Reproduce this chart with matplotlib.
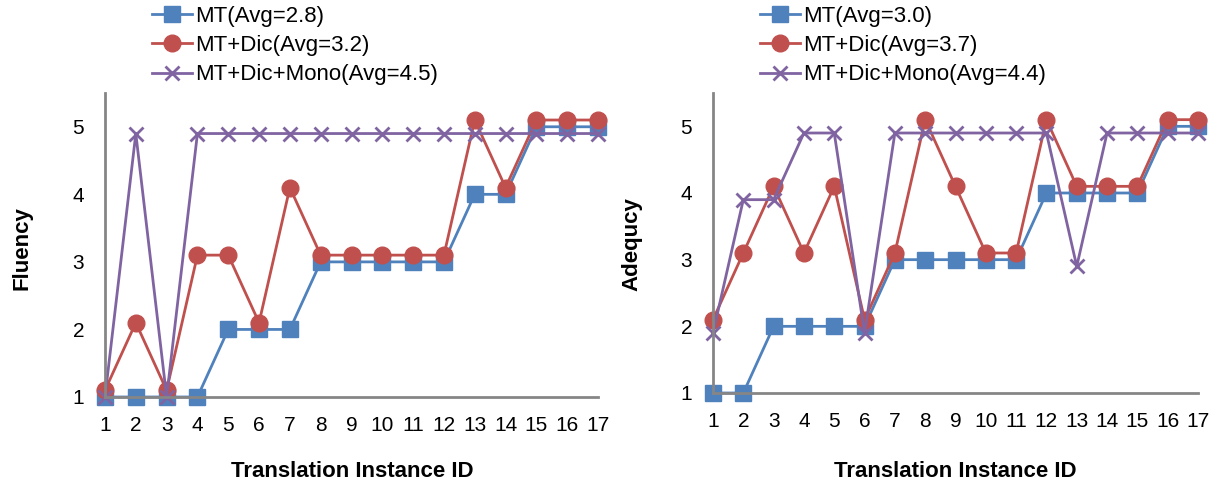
import numpy as np
import matplotlib
matplotlib.use("Agg")
import matplotlib.pyplot as plt

plt.rcParams['font.family'] = ['Liberation Sans', 'DejaVu Sans']

ids = list(range(1, 18))
tick_labels = [str(i) for i in ids]

# fluency scores (as plotted; Excel offsets the overlapping series slightly)
flu_mt = [1, 1, 1, 1, 2, 2, 2, 3, 3, 3, 3, 3, 4, 4, 5, 5, 5]
flu_dic = [1.1, 2.1, 1.1, 3.1, 3.1, 2.1, 4.1, 3.1, 3.1, 3.1, 3.1, 3.1, 5.1, 4.1, 5.1, 5.1, 5.1]
flu_mono = [1.0, 4.9, 1.0, 4.9, 4.9, 4.9, 4.9, 4.9, 4.9, 4.9, 4.9, 4.9, 4.9, 4.9, 4.9, 4.9, 4.9]

# adequacy scores
ade_mt = [1, 1, 2, 2, 2, 2, 3, 3, 3, 3, 3, 4, 4, 4, 4, 5, 5]
ade_dic = [2.1, 3.1, 4.1, 3.1, 4.1, 2.1, 3.1, 5.1, 4.1, 3.1, 3.1, 5.1, 4.1, 4.1, 4.1, 5.1, 5.1]
ade_mono = [1.9, 3.9, 3.9, 4.9, 4.9, 1.9, 4.9, 4.9, 4.9, 4.9, 4.9, 4.9, 2.9, 4.9, 4.9, 4.9, 4.9]

flu_names = ['MT(Avg=2.8)', 'MT+Dic(Avg=3.2)', 'MT+Dic+Mono(Avg=4.5)']
ade_names = ['MT(Avg=3.0)', 'MT+Dic(Avg=3.7)', 'MT+Dic+Mono(Avg=4.4)']

blue = '#4F81BD'
red = '#C0504D'
purple = '#8064A2'
gray = '#868686'

W, H = 1226, 483
fig = plt.figure(figsize=(W / 100, H / 100), dpi=100)


def px_axes(x0, x1, y0, y1):
    # pixel box -> figure fraction
    return fig.add_axes([x0 / W, 1 - y1 / H, (x1 - x0) / W, (y1 - y0) / H])


def draw(ax, mt, dic, mono, names, legend_x):
    l1, = ax.plot(ids, mt, color=blue, lw=2, marker='s', ms=11, clip_on=False, label=names[0])
    l2, = ax.plot(ids, dic, color=red, lw=2, marker='o', ms=12, clip_on=False, label=names[1])
    l3, = ax.plot(ids, mono, color=purple, lw=2, marker='x', ms=10, mew=2, clip_on=False, label=names[2])
    ax.set_xlim(1, 17)
    ax.set_ylim(1, 5.5)
    ax.set_xticks(ids)
    ax.set_xticklabels(tick_labels)
    ax.set_yticks([1, 2, 3, 4, 5])
    ax.tick_params(axis='x', length=0, pad=14, labelsize=15)
    ax.tick_params(axis='y', length=0, pad=15, labelsize=15)
    for s in ['top', 'right']:
        ax.spines[s].set_visible(False)
    for s in ['left', 'bottom']:
        ax.spines[s].set_color(gray)
        ax.spines[s].set_linewidth(2)
    ax.legend(handles=[l1, l2, l3], loc='upper left',
              bbox_to_anchor=(legend_x / W, 1 - 6 / H), bbox_transform=fig.transFigure,
              frameon=False, fontsize=16, handlelength=1.8, handletextpad=0.15,
              labelspacing=0.37, borderpad=0, borderaxespad=0)


ax1 = px_axes(105, 598, 93, 397)
draw(ax1, flu_mt, flu_dic, flu_mono, flu_names, 152)
ax2 = px_axes(713, 1198, 93, 393)
draw(ax2, ade_mt, ade_dic, ade_mono, ade_names, 760)

fig.text(22 / W, 1 - 248 / H, 'Fluency', rotation=90, ha='center', va='center',
         fontsize=16, fontweight='bold')
fig.text(632 / W, 1 - 244 / H, 'Adequcy', rotation=90, ha='center', va='center',
         fontsize=16, fontweight='bold')
fig.text(352 / W, 1 - 477 / H, 'Translation Instance ID', ha='center', va='baseline',
         fontsize=16, fontweight='bold')
fig.text(955 / W, 1 - 477 / H, 'Translation Instance ID', ha='center', va='baseline',
         fontsize=16, fontweight='bold')

fig.savefig('out.png', dpi=100)
